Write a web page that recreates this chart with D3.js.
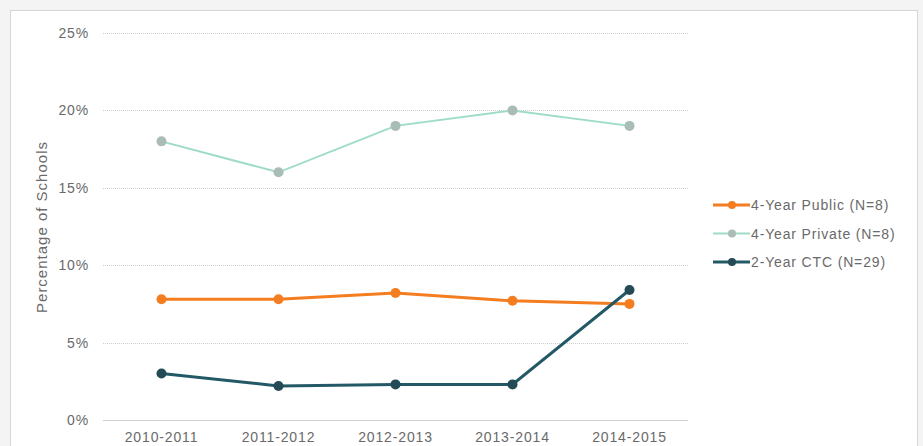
<!DOCTYPE html>
<meta charset="utf-8">
<title>Percentage of Schools</title>
<style>

body {
  margin: 0px;
  background-color: #f4f4f4;
}

svg {
  display: block;
}

text {
  font-family: "Liberation Sans", Arial, sans-serif;
  fill: #6a6a6a;
  letter-spacing: 0.85px;
}

.grid line {
  stroke: #cfcfcf;
}

.series path.line {
  fill: none;
}

</style>

<script src="https://cdn.jsdelivr.net/npm/d3@7"></script>

<body>

<script>

var width = 923, height = 446;

// chart data
var years = ["2010-2011", "2011-2012", "2012-2013", "2013-2014", "2014-2015"];
var publicVals = [7.8, 7.8, 8.2, 7.7, 7.5];
var privateVals = [18, 16, 19, 20, 19];
var ctcVals = [3.0, 2.2, 2.3, 2.3, 8.4];
var yTicks = [0, 5, 10, 15, 20, 25];
var seriesNames = ["4-Year Public (N=8)", "4-Year Private (N=8)", "2-Year CTC (N=29)"];

var series = [
  { name: seriesNames[0], values: publicVals, line: "#f47d20", dot: "#f47d20", w: 3 },
  { name: seriesNames[1], values: privateVals, line: "#9edcc6", dot: "#a9bdb6", w: 2 },
  { name: seriesNames[2], values: ctcVals, line: "#235966", dot: "#234a55", w: 3 }
];

var svg = d3.select("body").append("svg")
    .attr("width", width)
    .attr("height", height);

// white panel
svg.append("rect")
    .attr("x", 10.5).attr("y", 10.5)
    .attr("width", 907).attr("height", 440)
    .attr("fill", "#fff")
    .attr("stroke", "#d6d6d6");

var x = d3.scalePoint()
    .domain(years)
    .range([103, 688])
    .padding(0.5);

var y = d3.scaleLinear()
    .domain([0, 25])
    .range([420, 33]);

// gridlines
var grid = svg.append("g").attr("class", "grid");
grid.selectAll("line")
    .data(yTicks)
  .enter().append("line")
    .attr("x1", 103).attr("x2", 688)
    .attr("y1", function(d) { return Math.round(y(d)) + 0.5; })
    .attr("y2", function(d) { return Math.round(y(d)) + 0.5; })
    .style("stroke-dasharray", function(d) { return d === 0 ? null : "1,1"; });

// y tick labels
svg.append("g").selectAll("text")
    .data(yTicks)
  .enter().append("text")
    .attr("x", 89)
    .attr("y", function(d) { return y(d) + 5; })
    .attr("text-anchor", "end")
    .style("font-size", "14px")
    .text(function(d) { return d + "%"; });

// x labels
svg.append("g").selectAll("text")
    .data(years)
  .enter().append("text")
    .attr("x", function(d) { return x(d); })
    .attr("y", 442)
    .attr("text-anchor", "middle")
    .style("font-size", "14px")
    .text(function(d) { return d; });

// y axis title
svg.append("text")
    .attr("transform", "translate(47,227) rotate(-90)")
    .attr("text-anchor", "middle")
    .style("font-size", "15px")
    .style("letter-spacing", "1px")
    .text("Percentage of Schools");

var line = d3.line()
    .x(function(d, i) { return x(years[i]); })
    .y(function(d) { return y(d); });

// draw private first so the others sit on top
var order = [1, 0, 2];
order.forEach(function(k) {
  var s = series[k];
  var g = svg.append("g").attr("class", "series");
  g.append("path")
      .attr("class", "line")
      .attr("d", line(s.values))
      .attr("stroke", s.line)
      .attr("stroke-width", s.w);
  g.selectAll("circle")
      .data(s.values)
    .enter().append("circle")
      .attr("cx", function(d, i) { return x(years[i]); })
      .attr("cy", function(d) { return y(d); })
      .attr("r", 5)
      .attr("fill", s.dot);
});

// legend
var legend = svg.append("g").attr("transform", "translate(713,205)");
var item = legend.selectAll("g")
    .data(series)
  .enter().append("g")
    .attr("transform", function(d, i) { return "translate(0," + (i * 28.5) + ")"; });

item.append("line")
    .attr("x1", 0).attr("x2", 37)
    .attr("stroke", function(d) { return d.line; })
    .attr("stroke-width", function(d) { return d.w; });

item.append("circle")
    .attr("cx", 19)
    .attr("r", 4)
    .attr("fill", function(d) { return d.dot; });

item.append("text")
    .attr("x", 38)
    .attr("y", 5)
    .style("font-size", "14px")
    .text(function(d) { return d.name; });

</script>
